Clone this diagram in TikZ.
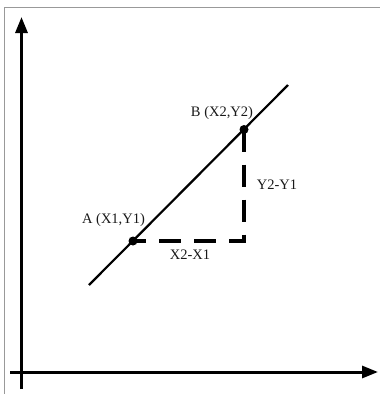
\documentclass[tikz,border=0pt]{standalone}
\usepackage{fontspec}
\setmainfont{Liberation Serif}
\usetikzlibrary{arrows.meta,positioning}

\begin{document}
\begin{tikzpicture}[x=1pt, y=-1pt,
  axis/.style={line width=3pt, -{Triangle[length=16pt,width=12pt]}},
  dot/.style={circle, fill=black, inner sep=0pt, minimum size=9pt},
  lbl/.style={font=\fontsize{14.5}{17}\selectfont, text=black!90},
  dashline/.style={line width=3.5pt, dash pattern=on 22pt off 13pt}
]
  \useasboundingbox (0,0) rectangle (380,394);
  % Frame
  \draw[black!40, line width=1.5pt] (380,7.5) -- (4.5,7.5) -- (4.5,394);

  % Axes
  \coordinate (xs) at (10,372);
  \coordinate (xe) at (378,372);
  \coordinate (ys) at (21.5,389);
  \coordinate (ye) at (21.5,17);
  \draw[axis] (xs) -- (xe);
  \draw[axis] (ys) -- (ye);

  % Line through A and B
  \coordinate (l1) at (89,285);
  \coordinate (l2) at (288,85);
  \draw[line width=2.2pt] (l1) -- (l2);

  % Points
  \node[dot] (pA) at (133,241) {};
  \node[dot] (pB) at (244,129.5) {};
  \draw[dashline] (pB.center) |- (pA.center);

  % Labels
  \node[lbl] (lA) at (113.5,220) {A (X1,Y1)};
  \node[lbl] (lB) at (222,113) {B (X2,Y2)};
  \node[lbl] (lx) at (190,255) {X2-X1};
  \node[lbl] (ly) at (277,185) {Y2-Y1};
\end{tikzpicture}
\end{document}
